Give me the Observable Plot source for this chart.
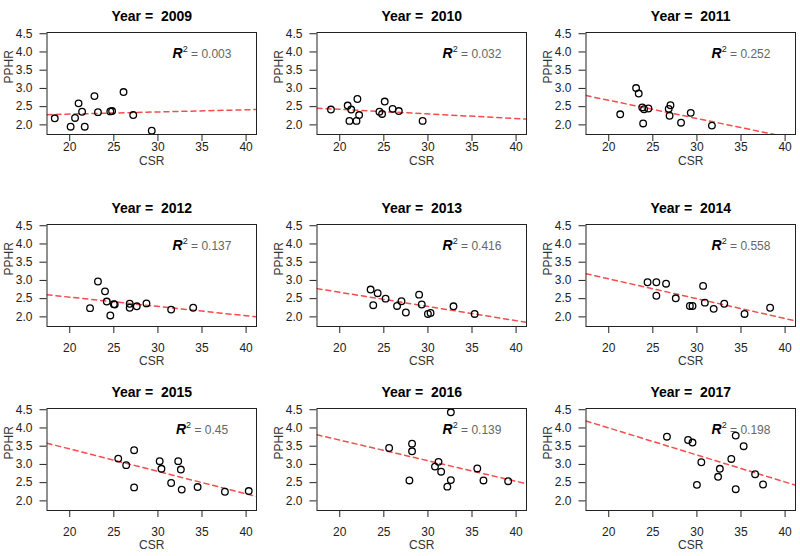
<!DOCTYPE html>
<html><head><meta charset="utf-8">
<script src="https://cdn.jsdelivr.net/npm/d3@7"></script>
<script src="https://cdn.jsdelivr.net/npm/@observablehq/plot@0.6"></script>
<style>
body{margin:0;background:#fff;}
#chart{position:relative;width:800px;height:556px;overflow:hidden;font-family:"Liberation Sans",Arial,sans-serif;background:#fff;}
#chart svg{position:absolute;}
</style></head><body><div id="chart"></div>
<script>
// ---- data ----
const years = [2009, 2010, 2011, 2012, 2013, 2014, 2015, 2016, 2017];

const csr2009 = [18.3, 20.1, 20.6, 21.0, 21.4, 21.7, 22.8, 23.2, 24.6, 24.8, 26.1, 27.2, 29.3];
const pphr2009 = [2.18, 1.95, 2.19, 2.59, 2.36, 1.95, 2.79, 2.35, 2.37, 2.38, 2.90, 2.27, 1.84];

const csr2010 = [19.0, 20.9, 21.3, 21.1, 21.9, 22.0, 22.2, 24.5, 24.8, 25.1, 26.0, 26.7, 29.4];
const pphr2010 = [2.42, 2.53, 2.42, 2.11, 2.11, 2.71, 2.27, 2.36, 2.30, 2.64, 2.44, 2.38, 2.11];

const csr2011 = [21.3, 23.1, 23.4, 23.8, 24.0, 23.9, 24.5, 26.8, 27.0, 26.9, 28.2, 29.3, 31.7];
const pphr2011 = [2.29, 3.01, 2.86, 2.48, 2.43, 2.04, 2.45, 2.44, 2.54, 2.25, 2.06, 2.33, 1.98];

const csr2012 = [22.3, 23.2, 24.0, 24.2, 24.6, 25.0, 25.1, 26.8, 26.8, 27.6, 28.7, 31.5, 34.0];
const pphr2012 = [2.24, 2.97, 2.70, 2.42, 2.04, 2.35, 2.34, 2.36, 2.25, 2.29, 2.37, 2.20, 2.25];

const csr2013 = [23.5, 23.8, 24.3, 25.2, 26.5, 27.0, 27.5, 29.0, 29.3, 30.0, 30.3, 32.9, 35.3];
const pphr2013 = [2.75, 2.32, 2.65, 2.50, 2.30, 2.43, 2.12, 2.61, 2.34, 2.08, 2.11, 2.29, 2.08];

const csr2014 = [24.4, 25.4, 25.4, 26.5, 27.6, 29.2, 29.5, 30.7, 30.9, 31.9, 33.1, 35.4, 38.3];
const pphr2014 = [2.95, 2.95, 2.58, 2.91, 2.51, 2.30, 2.30, 2.85, 2.39, 2.22, 2.36, 2.08, 2.25];

const csr2015 = [25.5, 26.4, 27.3, 27.3, 30.2, 30.4, 31.5, 32.3, 32.6, 32.7, 34.5, 37.6, 40.3];
const pphr2015 = [3.16, 2.98, 3.39, 2.37, 3.09, 2.88, 2.49, 3.09, 2.86, 2.31, 2.38, 2.25, 2.27];

const csr2016 = [25.6, 27.9, 28.2, 28.2, 30.8, 31.2, 31.5, 32.2, 32.6, 32.6, 35.6, 36.3, 39.1];
const pphr2016 = [3.45, 2.56, 3.57, 3.36, 2.94, 3.07, 2.80, 2.39, 2.57, 4.43, 2.89, 2.56, 2.54];

const csr2017 = [26.6, 29.0, 29.5, 30.0, 30.5, 32.4, 32.6, 33.9, 34.4, 34.4, 35.3, 36.6, 37.5];
const pphr2017 = [3.76, 3.67, 3.60, 2.44, 3.06, 2.66, 2.88, 3.15, 3.79, 2.32, 3.50, 2.73, 2.45];

const csrByYear = [csr2009, csr2010, csr2011, csr2012, csr2013, csr2014, csr2015, csr2016, csr2017];
const pphrByYear = [pphr2009, pphr2010, pphr2011, pphr2012, pphr2013, pphr2014, pphr2015, pphr2016, pphr2017];

// fitted regression lines (intercept, slope)
const fitIntercept = [2.179, 2.677, 3.673, 3.052, 3.453, 4.131, 4.654, 4.797, 5.482];
const fitSlope = [0.00586, -0.01255, -0.0499, -0.02552, -0.03891, -0.0544, -0.0615, -0.0565, -0.0741];
const r2Labels = ["0.003", "0.032", "0.252", "0.137", "0.416", "0.558", "0.45", "0.139", "0.198"];
const r2LabelPos = [35, 3.95];

const xTicks = [20, 25, 30, 35, 40];
const yTicks = [2.0, 2.5, 3.0, 3.5, 4.0, 4.5];

// ---- shared scales (R style: data range padded by 4%) ----
const allX = csrByYear.flat(), allY = pphrByYear.flat();
function padded(ext) { const p = (ext[1] - ext[0]) * 0.04; return [ext[0] - p, ext[1] + p]; }
const xDomain = padded(d3.extent(allX));
const yDomain = padded(d3.extent(allY));

// ---- layout ----
const colLeft = [0, 269.5, 539];
const rowTop = [0, 192, 376];
const xTickPad = [1, 9.7, 9.7];
const xLabelDy = [30.5, 38, 38];

const chart = document.getElementById("chart");
const font = '"Liberation Sans", Arial, sans-serif';

years.forEach((year, i) => {
  const col = i % 3, row = Math.floor(i / 3);
  const pts = csrByYear[i].map((c, k) => ({csr: c, pphr: pphrByYear[i][k]}));
  const a = fitIntercept[i], b = fitSlope[i];
  const fit = xDomain.map(x => ({x, y: a + b * x}));
  const svg = Plot.plot({
    width: 265, height: 178,
    marginLeft: 46.5, marginRight: 9, marginTop: 32, marginBottom: 44,
    style: {fontFamily: font, fontSize: "12px", color: "#222", background: "transparent", overflow: "visible"},
    x: {domain: xDomain},
    y: {domain: yDomain},
    marks: [
      Plot.axisX({ticks: xTicks, tickSize: 7, tickPadding: xTickPad[row], label: null, tickFormat: d => String(d), fontSize: 12}),
      Plot.axisY({ticks: yTicks, tickSize: 7, tickPadding: 7.5, label: null, tickFormat: d => d.toFixed(1), fontSize: 12}),
      Plot.line(fit, {x: "x", y: "y", stroke: "#f23a3a", strokeOpacity: 0.9, strokeWidth: 1.5, strokeDasharray: "5,4", clip: true}),
      Plot.dot(pts, {x: "csr", y: "pphr", r: 3.3, stroke: "#000", strokeWidth: 1.3, fill: "none"}),
      Plot.frame({stroke: "#222", strokeWidth: 1}),
      Plot.text([`Year =  ${year}`], {frameAnchor: "top", dy: -21, fontWeight: "bold", fontSize: 14, fill: "#000"}),
      Plot.text(["CSR"], {frameAnchor: "bottom", dy: xLabelDy[row], fontSize: 12, fill: "#333"}),
      Plot.text(["PPHR"], {frameAnchor: "left", dx: -38, rotate: -90, fontSize: 12, fill: "#333"}),
      Plot.text([r2Labels[i]], {x: () => r2LabelPos[0], y: () => r2LabelPos[1], text: d => "R2 = " + d, textAnchor: "middle", fontSize: 12, ariaLabel: "r2"})
    ]
  });
  svg.style.left = colLeft[col] + "px";
  svg.style.top = rowTop[row] + "px";
  // rich text for R^2 label
  let t = svg.querySelector('g[aria-label="r2"] text');
  if (!t) { const gs = svg.querySelectorAll('g[aria-label="text"]'); t = gs[gs.length - 1].querySelector("text"); }
  const ns = "http://www.w3.org/2000/svg";
  t.textContent = "";
  const s1 = document.createElementNS(ns, "tspan");
  s1.textContent = "R"; s1.setAttribute("font-weight", "bold"); s1.setAttribute("font-style", "italic");
  s1.setAttribute("font-size", "14"); s1.setAttribute("fill", "#000");
  const s2 = document.createElementNS(ns, "tspan");
  s2.textContent = "2"; s2.setAttribute("font-size", "9"); s2.setAttribute("dy", "-6"); s2.setAttribute("fill", "#222");
  const s3 = document.createElementNS(ns, "tspan");
  s3.textContent = " = " + r2Labels[i]; s3.setAttribute("dy", "6"); s3.setAttribute("fill", "#666"); s3.setAttribute("font-size", "12");
  t.append(s1, s2, s3);
  chart.appendChild(svg);
});
</script>
</body></html>
